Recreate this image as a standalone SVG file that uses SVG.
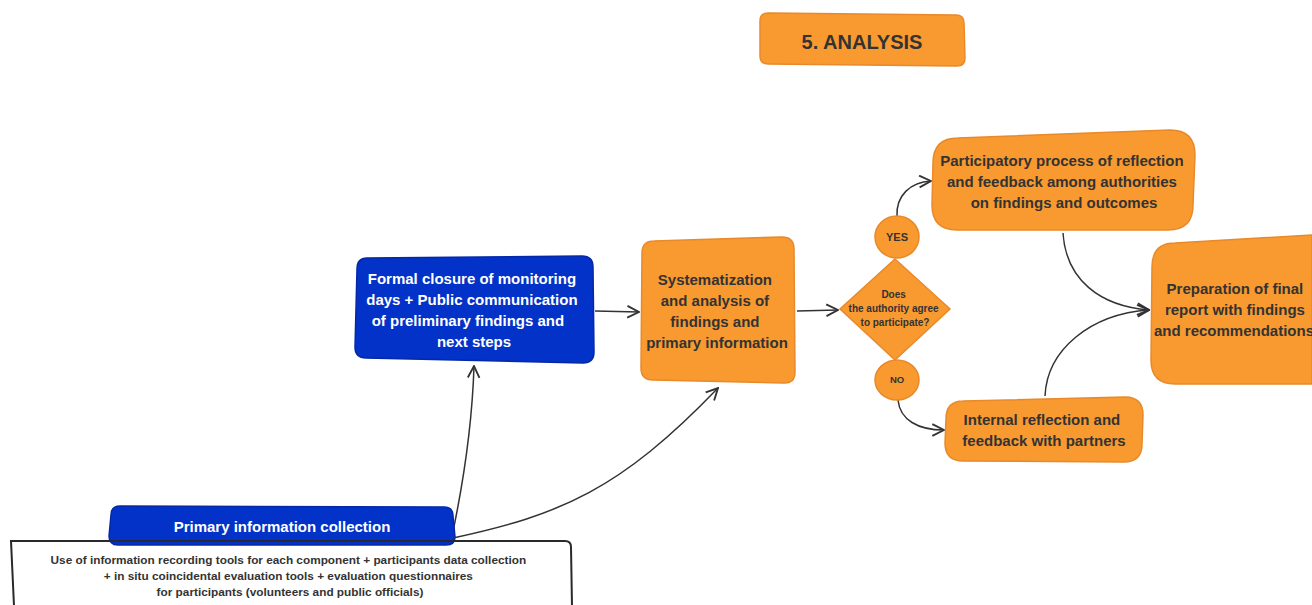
<svg xmlns="http://www.w3.org/2000/svg" width="1312" height="605" viewBox="0 0 1312 605">
  <style>
    .orange { fill: #F99A30; stroke: #E8892A; stroke-width: 1.5; }
    .blue { fill: #0232C8; stroke: #0628A8; stroke-width: 1.5; }
    .lbl { font-family: "Liberation Sans", Arial, sans-serif; font-weight: bold; text-anchor: middle; }
    .dark { fill: #333333; }
    .light { fill: #FFFFFF; }
    .edge { fill: none; stroke: #333333; stroke-width: 1.5; }
  </style>
  <defs>
    <marker id="arrow" viewBox="0 0 12 12" refX="11" refY="6" markerWidth="14" markerHeight="14" markerUnits="userSpaceOnUse" orient="auto">
      <path d="M1,1 L11,6 L1,11" fill="none" stroke="#333333" stroke-width="1.6"/>
    </marker>
  </defs>

  <rect width="1312" height="605" fill="#FFFFFF"/>

  <!-- title -->
  <g id="title">
    <path class="orange" d="M768,13 L956,15 Q964,15 964,23 L965,58 Q965,66 957,66 L768,64 Q760,64 760,56 L760,21 Q760,13 768,13 Z"/>
    <text class="lbl dark" x="862" y="49" font-size="20">5. ANALYSIS</text>
  </g>

  <!-- connectors -->
  <g id="connectors">
    <path class="edge" marker-end="url(#arrow)" d="M595,311 L639,312"/>
    <path class="edge" marker-end="url(#arrow)" d="M797,311 L838,310"/>
    <path class="edge" marker-end="url(#arrow)" d="M897,216 C896,196 910,182 931,181"/>
    <path class="edge" marker-end="url(#arrow)" d="M898,400 C900,420 918,430 944,430"/>
    <path class="edge" marker-end="url(#arrow)" d="M1063,233 C1066,280 1100,306 1149,310"/>
    <path class="edge" marker-end="url(#arrow)" d="M1045,396 C1047,350 1090,314 1149,310"/>
    <path class="edge" marker-end="url(#arrow)" d="M451,541 C462,490 472,430 474,366"/>
    <path class="edge" marker-end="url(#arrow)" d="M453,538 C560,515 620,490 718,388"/>
  </g>

  <!-- blue step -->
  <g id="closure">
    <path class="blue" d="M367,258 L582,256 Q593,256 593,267 L594,352 Q594,363 583,363 L366,358 Q355,358 355,347 L357,269 Q357,258 367,258 Z"/>
    <text class="lbl light" font-size="15">
      <tspan x="474" y="284">Formal closure of monitoring</tspan>
      <tspan x="474" y="305">days + Public communication</tspan>
      <tspan x="470" y="326">of preliminary findings and</tspan>
      <tspan x="474" y="347">next steps</tspan>
    </text>
  </g>

  <g id="systematization">
    <path class="orange" d="M654,241 L782,237 Q794,237 794,249 L795,372 Q795,384 783,383 L653,380 Q641,380 641,368 L642,253 Q642,241 654,241 Z"/>
    <text class="lbl dark" font-size="15">
      <tspan x="717" y="285">Systematization</tspan>
      <tspan x="717" y="306">and analysis of</tspan>
      <tspan x="717" y="327">findings and</tspan>
      <tspan x="717" y="348">primary information</tspan>
    </text>
  </g>

  <g id="decision">
    <path class="orange" d="M895,259 L950,309 L895,360 L840,309 Z"/>
    <text class="lbl dark" font-size="10">
      <tspan x="895" y="298">Does</tspan>
      <tspan x="895" y="312">the authority agree</tspan>
      <tspan x="895" y="326">to participate?</tspan>
    </text>
  </g>

  <g id="yes">
    <ellipse class="orange" cx="897" cy="237" rx="22" ry="21"/>
    <text class="lbl dark" x="897" y="241" font-size="11">YES</text>
  </g>

  <g id="no">
    <ellipse class="orange" cx="897" cy="380" rx="22" ry="20"/>
    <text class="lbl dark" x="897" y="383" font-size="9.5">NO</text>
  </g>

  <g id="participatory">
    <path class="orange" d="M958,138 L1170,130 Q1195,130 1195,155 L1193,205 Q1193,230 1168,230 L957,230 Q932,230 932,205 L933,163 Q933,138 958,138 Z"/>
    <text class="lbl dark" font-size="15">
      <tspan x="1064" y="166">Participatory process of reflection</tspan>
      <tspan x="1064" y="187">and feedback among authorities</tspan>
      <tspan x="1064" y="208">on findings and outcomes</tspan>
    </text>
  </g>

  <g id="final-report">
    <path class="orange" d="M1175,243 L1312,235 L1312,384 L1175,384 Q1151,384 1151,360 L1152,267 Q1152,243 1175,243 Z"/>
    <text class="lbl dark" font-size="15">
      <tspan x="1237" y="294">Preparation of final</tspan>
      <tspan x="1237" y="315">report with findings</tspan>
      <tspan x="1234" y="336">and recommendations</tspan>
    </text>
  </g>

  <g id="internal">
    <path class="orange" d="M963,401 L1125,397 Q1143,397 1143,415 L1142,444 Q1142,462 1124,462 L963,461 Q945,461 945,443 L946,419 Q946,401 963,401 Z"/>
    <text class="lbl dark" font-size="15">
      <tspan x="1044" y="425">Internal reflection and</tspan>
      <tspan x="1044" y="446">feedback with partners</tspan>
    </text>
  </g>

  <!-- detail panel fill sits under the tab; its outline is drawn over it -->
  <path d="M14,606 L11,541 L565,541 Q571,541 571,547 L572,606 Z" fill="#FFFFFF"/>

  <g id="primary-collection">
    <path class="blue" d="M120,506 L444,507 Q453,507 453,516 L455,537 Q455,545 446,545 L118,545 Q109,545 109,536 L111,515 Q111,506 120,506 Z"/>
    <text class="lbl light" x="282" y="532" font-size="15">Primary information collection</text>
  </g>

  <g id="primary-detail">
    <path d="M14,606 L11,541 L565,541 Q571,541 571,547 L572,606" fill="none" stroke="#2A2A2A" stroke-width="2"/>
    <text class="lbl dark" font-size="11.8">
      <tspan x="290" y="564">Use of information recording tools for each component + participants data collection</tspan>
      <tspan x="290" y="580">+ in situ coincidental evaluation tools + evaluation questionnaires</tspan>
      <tspan x="290" y="596">for participants (volunteers and public officials)</tspan>
    </text>
  </g>
</svg>
